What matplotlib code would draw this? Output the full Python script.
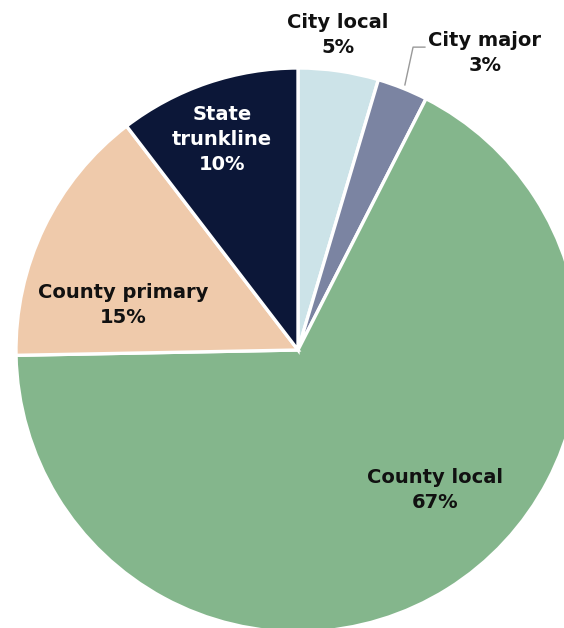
import matplotlib.pyplot as plt

labels = ['City local', 'City major', 'County local', 'County primary', 'State\ntrunkline']
shares = [4.6, 2.9, 67.2, 14.9, 10.4]
pct_text = ['5%', '3%', '67%', '15%', '10%']
colors = ['#cce3e8', '#7b84a2', '#84b68c', '#efcaab', '#0c1738']
text_colors = ['#111111', '#111111', '#111111', '#111111', '#ffffff']
# label centres in axes data units (pie radius = 1)
label_pos = [(0.142, 1.117), (0.663, 1.053), (0.486, -0.496), (-0.621, 0.160), (-0.270, 0.745)]

plt.rcParams['font.family'] = ['DejaVu Sans']

fig = plt.figure(figsize=(5.64, 6.28), dpi=100)
ax = fig.add_axes([16 / 564, -4 / 628, 564 / 564, 564 / 628])
ax.pie(shares, colors=colors, startangle=90, counterclock=False, radius=1,
       wedgeprops=dict(edgecolor='white', linewidth=2.4))
ax.set_xlim(-1, 1)
ax.set_ylim(-1, 1)
ax.set_aspect('equal')
ax.axis('off')

for lab, pct, pos, tc in zip(labels, pct_text, label_pos, text_colors):
    ax.text(pos[0], pos[1], f'{lab}\n{pct}', ha='center', va='center',
            fontsize=14, fontweight='bold', color=tc, linespacing=1.4,
            clip_on=False)

# leader line for City major
ax.plot([0.379, 0.408, 0.450], [0.940, 1.074, 1.074], color='#999999', lw=1, clip_on=False)

fig.savefig('out.png', dpi=100)
